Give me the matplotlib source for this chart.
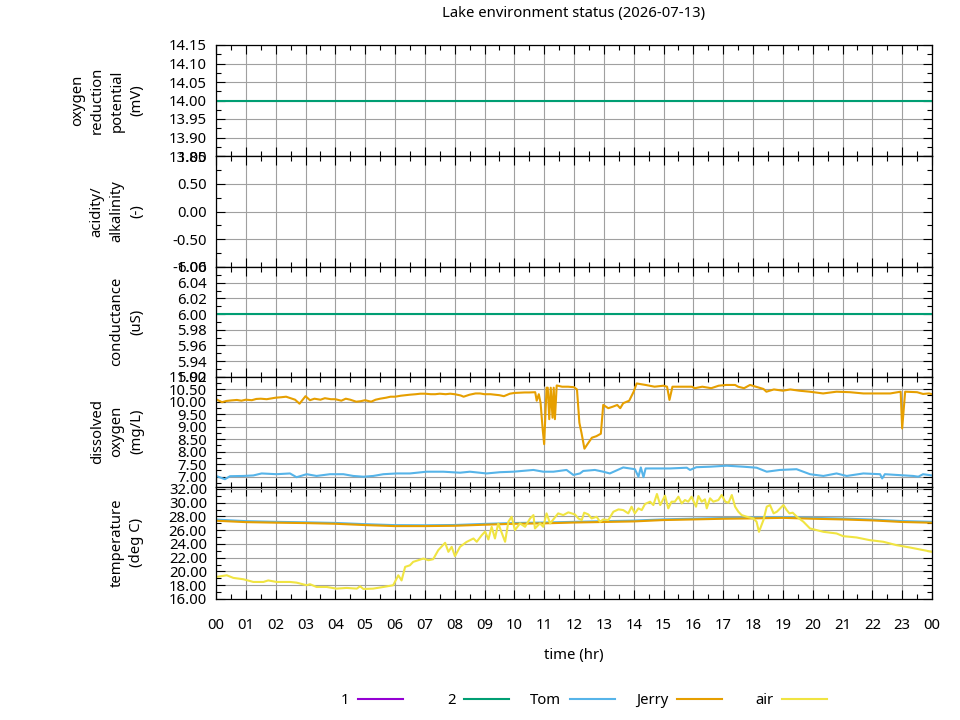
import numpy as np
import matplotlib
matplotlib.use("Agg")
import matplotlib.pyplot as plt
from matplotlib.ticker import FixedLocator, FormatStrFormatter
from matplotlib.lines import Line2D

plt.rcParams['font.family'] = ['Noto Sans', 'DejaVu Sans']

# ---------------- data ----------------
title = "Lake environment status (2026-07-13)"
series_names = ["1", "2", "Tom", "Jerry", "air"]
hour_labels = ["00", "01", "02", "03", "04", "05", "06", "07", "08", "09", "10", "11",
               "12", "13", "14", "15", "16", "17", "18", "19", "20", "21", "22", "23", "00"]

orp_hours = [0.0, 24.0]
orp_values = [14.0, 14.0]          # series "2"
cond_hours = [0.0, 24.0]
cond_values = [6.0, 6.0]           # series "2"

jerry_do_hours = [0.0, 0.2, 0.35, 0.5, 0.7, 0.85, 1.0, 1.2, 1.35, 1.5, 1.7, 1.85, 2.0, 2.2, 2.35,
                  2.5, 2.65, 2.8, 3.0, 3.15, 3.3, 3.5, 3.65, 3.85, 4.0, 4.2, 4.35, 4.5, 4.7, 4.85,
                  5.0, 5.2, 5.35, 5.5, 5.7, 5.85, 6.0, 6.2, 6.35, 6.5, 6.7, 6.85, 7.0, 7.2, 7.35,
                  7.5, 7.7, 7.85, 8.0, 8.2, 8.3, 8.5, 8.7, 8.85, 9.0, 9.2, 9.35, 9.5, 9.65, 9.85,
                  10.0, 10.2, 10.35, 10.5, 10.7, 10.75, 10.82, 10.88, 10.95, 11.0, 11.08, 11.12,
                  11.17, 11.22, 11.28, 11.32, 11.36, 11.42, 11.6, 11.8, 12.0, 12.1, 12.18, 12.25,
                  12.35, 12.45, 12.6, 12.75, 12.9, 12.98, 13.15, 13.3, 13.45, 13.55, 13.65, 13.85,
                  14.0, 14.1, 14.4, 14.7, 15.0, 15.12, 15.2, 15.3, 15.6, 15.95, 16.05, 16.3, 16.6,
                  16.85, 17.1, 17.4, 17.5, 17.7, 17.9, 18.1, 18.35, 18.45, 18.7, 19.0, 19.25,
                  19.55, 19.9, 20.35, 20.8, 21.25, 21.7, 22.15, 22.6, 22.95, 23.0, 23.1, 23.5,
                  23.7, 23.9, 24.0]
jerry_do_values = [10.10, 9.98, 10.03, 10.05, 10.07, 10.04, 10.08, 10.06, 10.11, 10.12, 10.10, 10.13,
                   10.16, 10.18, 10.20, 10.14, 10.08, 9.92, 10.22, 10.06, 10.12, 10.08, 10.14, 10.10,
                   10.10, 10.04, 10.12, 10.08, 10.00, 10.02, 10.06, 10.00, 10.08, 10.12, 10.16, 10.20,
                   10.20, 10.24, 10.26, 10.28, 10.30, 10.32, 10.32, 10.30, 10.30, 10.32, 10.30, 10.32,
                   10.30, 10.25, 10.20, 10.28, 10.33, 10.33, 10.30, 10.30, 10.28, 10.26, 10.22, 10.32,
                   10.35, 10.36, 10.37, 10.37, 10.38, 10.04, 10.30, 9.95, 8.90, 8.30, 10.56, 10.56,
                   9.30, 10.56, 9.36, 10.56, 9.30, 10.65, 10.60, 10.60, 10.58, 10.49, 9.16, 8.76,
                   8.12, 8.30, 8.56, 8.62, 8.72, 9.87, 9.74, 9.80, 9.87, 9.74, 9.94, 10.04,
                   10.40, 10.73, 10.67, 10.60, 10.64, 10.60, 10.07, 10.60, 10.60, 10.60, 10.54, 10.60,
                   10.54, 10.64, 10.67, 10.67, 10.60, 10.54, 10.67, 10.60, 10.51, 10.40, 10.49, 10.44,
                   10.49, 10.44, 10.40, 10.33, 10.40, 10.38, 10.33, 10.33, 10.33, 10.40, 8.93, 10.40,
                   10.38, 10.31, 10.33, 10.30]

tom_do_hours = [0.0, 0.3, 0.47, 0.92, 1.25, 1.53, 2.03, 2.48, 2.7, 3.04, 3.37, 3.82, 4.27, 4.6,
                4.94, 5.27, 5.61, 6.06, 6.5, 7.06, 7.62, 8.18, 8.51, 9.07, 9.52, 9.97, 10.64,
                10.97, 11.31, 11.75, 11.98, 12.2, 12.31, 12.7, 12.98, 13.2, 13.65, 14.04, 14.16,
                14.24, 14.33, 14.4, 14.77, 15.22, 15.78, 15.89, 16.1, 16.56, 17.12, 17.67, 18.12,
                18.46, 18.9, 19.46, 19.91, 20.36, 20.8, 21.14, 21.7, 22.26, 22.33, 22.42, 22.82,
                23.37, 23.54, 23.7, 24.0]
tom_do_values = [7.03, 6.90, 7.02, 7.03, 7.05, 7.13, 7.10, 7.13, 6.98, 7.10, 7.03, 7.10, 7.10, 7.03,
                 7.00, 7.03, 7.10, 7.13, 7.13, 7.20, 7.20, 7.16, 7.20, 7.13, 7.18, 7.20, 7.27,
                 7.20, 7.20, 7.27, 7.07, 7.13, 7.23, 7.27, 7.20, 7.13, 7.37, 7.30, 7.00,
                 7.37, 6.98, 7.33, 7.33, 7.33, 7.36, 7.27, 7.38, 7.40, 7.44, 7.40, 7.36,
                 7.20, 7.27, 7.30, 7.10, 7.03, 7.13, 7.03, 7.13, 7.10, 6.93, 7.10, 7.07,
                 7.03, 7.00, 7.10, 7.05]

air_hours = [0.0, 0.36, 0.58, 0.92, 1.25, 1.59, 1.75, 2.03, 2.48, 2.7, 3.04, 3.15, 3.37, 3.71,
             4.04, 4.38, 4.72, 4.83, 4.94, 5.27, 5.61, 5.94, 6.11, 6.22, 6.34, 6.5, 6.61, 6.78,
             6.95, 7.12, 7.28, 7.45, 7.68, 7.79, 7.9, 8.01, 8.18, 8.4, 8.63, 8.74, 8.91, 9.02,
             9.13, 9.24, 9.35, 9.46, 9.63, 9.69, 9.8, 9.91, 10.02, 10.19, 10.36, 10.53, 10.64,
             10.69, 10.86, 10.97, 11.08, 11.2, 11.47, 11.64, 11.81, 12.03, 12.15, 12.26, 12.34,
             12.48, 12.59, 12.76, 12.87, 12.98, 13.15, 13.32, 13.49, 13.65, 13.82, 13.93, 14.04,
             14.16, 14.27, 14.38, 14.55, 14.66, 14.78, 14.89, 15.05, 15.16, 15.27, 15.38, 15.5,
             15.61, 15.72, 15.83, 15.94, 16.09, 16.17, 16.28, 16.39, 16.45, 16.56, 16.67, 16.84,
             16.95, 17.07, 17.18, 17.29, 17.4, 17.51, 17.62, 17.79, 18.01, 18.12, 18.2, 18.35,
             18.46, 18.57, 18.69, 18.8, 18.91, 19.02, 19.13, 19.22, 19.33, 19.47, 19.69, 19.91,
             20.36, 20.8, 21.02, 21.47, 21.91, 22.37, 22.81, 23.26, 23.71, 24.0]
air_values = [19.20, 19.45, 19.07, 18.87, 18.48, 18.48, 18.70, 18.48, 18.48, 18.38, 18.00, 18.15,
              17.75, 17.75, 17.51, 17.61, 17.51, 17.85, 17.46, 17.51, 17.75, 18.00, 19.45, 18.70,
              20.67, 20.90, 21.40, 21.64, 21.88, 21.64, 21.79, 23.10, 24.17, 22.86, 23.59, 22.23,
              23.59, 24.30, 24.80, 24.32, 25.29, 25.80, 24.66, 26.50, 24.80, 26.99, 25.05, 24.32,
              27.23, 27.96, 26.02, 26.99, 26.50, 27.72, 28.20, 26.26, 26.99, 26.50, 28.45, 26.99,
              28.45, 28.20, 28.60, 28.30, 27.70, 27.48, 28.55, 28.30, 27.72, 27.96, 27.23, 27.57,
              27.48, 28.69, 29.03, 28.93, 28.45, 29.42, 28.45, 29.18, 28.93, 29.81, 30.15, 29.66,
              31.27, 29.66, 31.03, 29.18, 30.15, 30.15, 30.88, 29.90, 30.39, 30.15, 30.88, 29.42,
              30.97, 30.15, 30.49, 29.18, 30.64, 30.15, 30.39, 31.12, 30.15, 30.00, 31.12, 29.42,
              28.69, 28.20, 27.96, 27.72, 27.23, 25.77, 27.48, 29.42, 29.66, 28.45, 28.69, 29.18,
              29.66, 28.93, 28.45, 28.55, 27.96, 27.23, 26.26, 25.77, 25.53, 25.14, 24.95, 24.56,
              24.32, 23.83, 23.49, 23.10, 22.86]

water_hours = list(range(0, 25))
jerry_temp_values = [27.38, 27.18, 27.10, 27.04, 26.94, 26.75, 26.60, 26.60, 26.65, 26.80, 26.94,
                     27.00, 27.12, 27.20, 27.28, 27.48, 27.57, 27.67, 27.72, 27.80, 27.67, 27.57,
                     27.43, 27.20, 27.09]
tom_temp_values = [27.55, 27.32, 27.22, 27.15, 27.06, 26.88, 26.74, 26.72, 26.76, 26.92, 27.05,
                   27.12, 27.22, 27.32, 27.40, 27.58, 27.68, 27.78, 27.84, 27.90, 27.80, 27.70,
                   27.55, 27.33, 27.22]

colors = {"1": "#9400d3", "2": "#009e73", "Tom": "#56b4e9", "Jerry": "#e69f00", "air": "#f0e442"}

# ---------------- layout ----------------
W, H = 960, 720
fig = plt.figure(figsize=(9.6, 7.2), dpi=100)
FS = 10.7
left_px, right_px = 216, 932
bounds = [45, 156, 267, 376.7, 486.7, 599]

panels = [
    dict(label="oxygen\nreduction\npotential\n(mV)", ylim=(13.85, 14.15), major=0.05, minor=0.025),
    dict(label="acidity/\nalkalinity\n(-)", ylim=(-1.0, 1.0), major=0.5, minor=0.25),
    dict(label="conductance\n(uS)", ylim=(5.92, 6.06), major=0.02, minor=0.01),
    dict(label="dissolved\noxygen\n(mg/L)", ylim=(6.6, 11.0), major=0.5, minor=0.25),
    dict(label="temperature\n(deg C)", ylim=(16.0, 32.33), major=2.0, minor=1.0),
]

def ticks_between(lo, hi, step):
    start = np.ceil(lo / step - 1e-6) * step
    vals = np.arange(start, hi + step * 1e-6, step)
    return [round(v, 6) for v in vals if v <= hi + 1e-9]

axes = []
for i, p in enumerate(panels):
    top, bot = bounds[i], bounds[i + 1]
    ax = fig.add_axes([left_px / W, 1 - bot / H, (right_px - left_px) / W, (bot - top) / H])
    axes.append(ax)
    ax.set_xlim(0, 24)
    ax.set_ylim(*p["ylim"])
    ax.yaxis.set_major_locator(FixedLocator(ticks_between(*p["ylim"], p["major"])))
    ax.yaxis.set_minor_locator(FixedLocator(ticks_between(*p["ylim"], p["minor"])))
    ax.yaxis.set_major_formatter(FormatStrFormatter("%.2f"))
    ax.xaxis.set_major_locator(FixedLocator(list(range(0, 25))))
    ax.xaxis.set_minor_locator(FixedLocator([h + 0.5 for h in range(0, 24)]))
    ax.grid(True, which="major", color="#a0a0a0", linewidth=0.8)
    ax.set_axisbelow(True)
    ax.tick_params(which="both", direction="in", top=True, right=True, width=0.8,
                   labelsize=FS, color="black")
    ax.tick_params(which="major", length=6.5, pad=6.5)
    ax.tick_params(which="minor", length=3.3)
    for s in ax.spines.values():
        s.set_linewidth(0.9)
    if i < len(panels) - 1:
        ax.tick_params(axis="x", labelbottom=False)
    else:
        ax.set_xticklabels(hour_labels)
        ax.tick_params(axis="x", pad=14)
    fig.text(144 / W, 1 - (top + bot) / 2 / H, p["label"], rotation=90, ha="right", va="center",
             multialignment="center", fontsize=FS, linespacing=1.42)

lw = 1.5
axes[0].plot(orp_hours, orp_values, color=colors["2"], lw=lw)
axes[2].plot(cond_hours, cond_values, color=colors["2"], lw=lw)
axes[3].plot(tom_do_hours, tom_do_values, color=colors["Tom"], lw=lw)
axes[3].plot(jerry_do_hours, jerry_do_values, color=colors["Jerry"], lw=lw)
axes[4].plot(water_hours, tom_temp_values, color=colors["Tom"], lw=lw)
axes[4].plot(water_hours, jerry_temp_values, color=colors["Jerry"], lw=lw)
axes[4].plot(air_hours, air_values, color=colors["air"], lw=lw)

fig.text((left_px + right_px) / 2 / W, 1 - 14 / H, title, ha="center", va="center", fontsize=FS)
fig.text((left_px + right_px) / 2 / W, 1 - 656 / H, "time (hr)", ha="center", va="center", fontsize=FS)

# legend: one entry per key, text right-justified before its sample line
legend_ends = [403, 509, 615, 722, 827]
for name, xe in zip(series_names, legend_ends):
    h = Line2D([], [], color=colors[name], lw=lw)
    fig.legend([h], [name], loc="center right", bbox_to_anchor=(xe / W, 1 - 701 / H),
               frameon=False, markerfirst=False, handlelength=3.0, handletextpad=0.6,
               borderpad=0, borderaxespad=0, fontsize=FS)

fig.savefig("out.png", dpi=100)
